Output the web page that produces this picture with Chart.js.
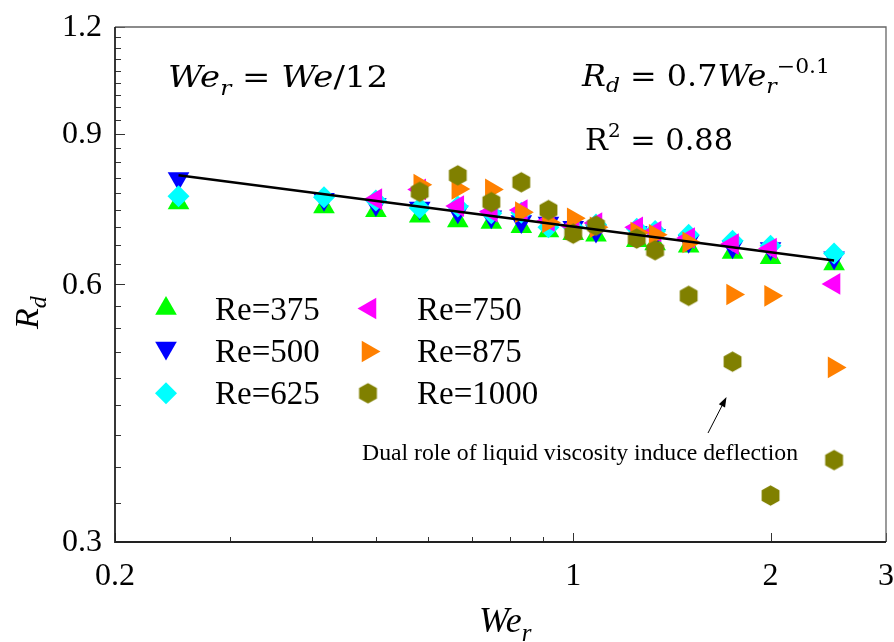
<!DOCTYPE html>
<html><head><meta charset="utf-8">
<script src="https://cdn.jsdelivr.net/npm/chart.js@4/dist/chart.umd.min.js"></script>
<style>html,body{margin:0;padding:0;background:#fff;}#wrap{width:894px;height:642px;position:relative;}</style>
</head><body><div id="wrap"><canvas id="c" width="894" height="642"></canvas></div>
<script>
// ---------- DATA ----------
const seriesNames = ['Re=375','Re=500','Re=625','Re=750','Re=875','Re=1000'];
const weR_375 = [0.25,0.4167,0.5,0.5833,0.6667,0.75,0.8333,0.9167,1.0,1.0833,1.25,1.3333,1.5,1.75,2.0,2.5];
const rd_375  = [0.747,0.739,0.732,0.721,0.712,0.709,0.701,0.693,0.688,0.685,0.675,0.669,0.665,0.654,0.645,0.634];
const weR_500 = [0.25,0.4167,0.5,0.5833,0.6667,0.75,0.8333,0.9167,1.0,1.0833,1.25,1.3333,1.5,1.75,2.0,2.5];
const rd_500  = [0.798,0.755,0.744,0.737,0.730,0.720,0.711,0.708,0.700,0.693,0.690,0.685,0.674,0.664,0.661,0.645];
const weR_625 = [0.25,0.4167,0.5,0.5833,0.6667,0.75,0.8333,0.9167,1.0,1.0833,1.25,1.3333,1.5,1.75,2.0,2.5];
const rd_625  = [0.761,0.759,0.752,0.737,0.740,0.727,0.728,0.700,0.700,0.705,0.697,0.693,0.686,0.675,0.666,0.652];
const weR_750 = [0.5,0.5833,0.6667,0.75,0.8333,0.9167,1.0,1.0833,1.25,1.3333,1.5,1.75,2.0,2.5];
const rd_750  = [0.755,0.775,0.741,0.730,0.733,0.712,0.702,0.708,0.700,0.692,0.680,0.669,0.661,0.601];
const weR_875 = [0.5833,0.6667,0.75,0.8333,0.9167,1.0,1.0833,1.25,1.3333,1.5,1.75,2.0,2.5];
const rd_875  = [0.785,0.776,0.775,0.729,0.709,0.717,0.700,0.690,0.686,0.672,0.584,0.582,0.480];
const weR_1000 = [0.5833,0.6667,0.75,0.8333,0.9167,1.0,1.0833,1.25,1.3333,1.5,1.75,2.0,2.5];
const rd_1000  = [0.770,0.805,0.749,0.790,0.733,0.688,0.703,0.679,0.658,0.582,0.4875,0.340,0.374];
const fitX = [0.25, 2.5];
const fitY = [0.805, 0.640];
const xTickVals = [0.2, 1, 2, 3];
const xTickLabels = ['0.2', '1', '2', '3'];
const xMinorVals = [0.3,0.4,0.5,0.6,0.7,0.8,0.9];
const yTickVals = [0.3, 0.6, 0.9, 1.2];
const yTickLabels = ['0.3', '0.6', '0.9', '1.2'];
const yMinorVals = [0.3333,0.3667,0.4,0.4333,0.4667,0.5,0.5333,0.5667,0.6333,0.6667,0.7,0.7333,0.7667,0.8,0.8333,0.8667,0.9333,0.9667,1.0,1.0333,1.0667,1.1,1.1333,1.1667];

// ---------- STYLES ----------
function makeHex(r, color){
  const s = Math.ceil(2*r+2);
  const c = document.createElement('canvas'); c.width = s; c.height = s;
  const g = c.getContext('2d'); g.fillStyle = color; g.beginPath();
  for (let i=0;i<6;i++){ const a = Math.PI/3*i - Math.PI/2;
    const px = s/2 + r*Math.cos(a), py = s/2 + r*Math.sin(a);
    if (i) g.lineTo(px,py); else g.moveTo(px,py); }
  g.closePath(); g.fill(); return c;
}
const hexImg = makeHex(10.3, '#808000');
const styles = [
  {color:'#00ff00', pointStyle:'triangle', rotation:0,   radius:12.5},
  {color:'#0000ff', pointStyle:'triangle', rotation:180, radius:12.5},
  {color:'#00ffff', pointStyle:'rectRot',  rotation:0,   radius:11},
  {color:'#ff00ff', pointStyle:'triangle', rotation:270, radius:12.5},
  {color:'#ff8000', pointStyle:'triangle', rotation:90,  radius:12.5},
  {color:'#808000', pointStyle:hexImg,     rotation:0,   radius:10}
];
const xs = [weR_375, weR_500, weR_625, weR_750, weR_875, weR_1000];
const ys = [rd_375, rd_500, rd_625, rd_750, rd_875, rd_1000];

const datasets = seriesNames.map((n,i)=>({
  type:'scatter', label:n,
  data: xs[i].map((x,j)=>({x:x, y:ys[i][j]})),
  pointStyle: styles[i].pointStyle, pointRotation: styles[i].rotation,
  pointRadius: styles[i].radius, pointHoverRadius: styles[i].radius,
  backgroundColor: styles[i].color, borderColor: styles[i].color, borderWidth: 0,
  order: 6 - i + 1
}));
datasets.push({
  type:'scatter', label:'fit', showLine:true,
  data: fitX.map((x,j)=>({x:x, y:fitY[j]})),
  borderColor:'#000', borderWidth:2.6, pointRadius:0, order:0
});

// ---------- TEXT HELPERS ----------
const MATH = 'DejaVu Serif';
const SERIF = 'Liberation Serif';
function drawRuns(ctx, runs, x, y, targetW){
  const ws = []; let total = 0;
  runs.forEach(r=>{ ctx.font = r.font; const w = ctx.measureText(r.t).width; ws.push(w); total += w; });
  const sx = targetW ? targetW/total : 1;
  ctx.save(); ctx.translate(x,y); ctx.scale(sx,1);
  let cx = 0;
  runs.forEach((r,i)=>{ ctx.font = r.font; ctx.fillText(r.t, cx, r.dy||0); cx += ws[i]; });
  ctx.restore();
}

const decor = {
  id:'decor',
  afterDraw(chart){
    const ctx = chart.ctx, a = chart.chartArea, X = chart.scales.x, Y = chart.scales.y;
    ctx.save();
    // ticks (inward)
    ctx.strokeStyle = '#333'; ctx.lineWidth = 1;
    ctx.beginPath();
    xTickVals.forEach(v=>{ const p = Math.round(X.getPixelForValue(v))+0.5; ctx.moveTo(p, a.bottom); ctx.lineTo(p, a.bottom-9); });
    xMinorVals.forEach(v=>{ const p = Math.round(X.getPixelForValue(v))+0.5; ctx.moveTo(p, a.bottom); ctx.lineTo(p, a.bottom-5); });
    yTickVals.forEach(v=>{ const p = Math.round(Y.getPixelForValue(v))+0.5; ctx.moveTo(a.left, p); ctx.lineTo(a.left+10, p); });
    yMinorVals.forEach(v=>{ const p = Math.round(Y.getPixelForValue(v))+0.5; ctx.moveTo(a.left, p); ctx.lineTo(a.left+6, p); });
    ctx.stroke();
    // frame
    ctx.strokeStyle = '#666'; ctx.lineWidth = 1.3;
    ctx.beginPath(); ctx.moveTo(a.left, a.top); ctx.lineTo(a.right, a.top); ctx.lineTo(a.right, a.bottom); ctx.stroke();
    ctx.strokeStyle = '#222'; ctx.lineWidth = 1.8;
    ctx.beginPath(); ctx.moveTo(a.left, a.top); ctx.lineTo(a.left, a.bottom); ctx.lineTo(a.right, a.bottom); ctx.stroke();

    // tick labels
    ctx.fillStyle = '#000';
    ctx.font = `32px "${SERIF}"`;
    ctx.textAlign = 'center'; ctx.textBaseline = 'middle';
    xTickVals.forEach((v,i)=>{ ctx.fillText(xTickLabels[i], X.getPixelForValue(v), a.bottom + 35); });
    ctx.textAlign = 'right';
    yTickVals.forEach((v,i)=>{ ctx.fillText(yTickLabels[i], a.left - 13, Y.getPixelForValue(v) + 1); });

    ctx.textAlign = 'left'; ctx.textBaseline = 'alphabetic';
    // annotations
    drawRuns(ctx, [
      {t:'We', font:`italic 29px "${MATH}"`},
      {t:'r', font:`italic 20px "${MATH}"`, dy:8},
      {t:' = ', font:`29px "${MATH}"`},
      {t:'We', font:`italic 29px "${MATH}"`},
      {t:'/12', font:`29px "${MATH}"`}
    ], 168, 87, 220);
    drawRuns(ctx, [
      {t:'R', font:`italic 29px "${MATH}"`},
      {t:'d', font:`italic 20px "${MATH}"`, dy:6},
      {t:' = 0.7', font:`29px "${MATH}"`},
      {t:'We', font:`italic 29px "${MATH}"`},
      {t:'r', font:`italic 20px "${MATH}"`, dy:7},
      {t:'\u22120.1', font:`20px "${MATH}"`, dy:-13}
    ], 582, 86, 248);
    drawRuns(ctx, [
      {t:'R', font:`29px "${MATH}"`},
      {t:'2', font:`19px "${MATH}"`, dy:-13},
      {t:' = 0.88', font:`29px "${MATH}"`}
    ], 585, 150, 148);
    // note
    drawRuns(ctx, [{t:'Dual role of liquid viscosity induce deflection', font:`24px "${SERIF}"`}], 362, 460, 436);
    // arrow
    const ax0 = 708, ay0 = 433, ax1 = 726.5, ay1 = 397;
    const ang = Math.atan2(ay1-ay0, ax1-ax0);
    ctx.strokeStyle = '#000'; ctx.lineWidth = 1;
    ctx.beginPath(); ctx.moveTo(ax0, ay0); ctx.lineTo(ax1 - 8*Math.cos(ang), ay1 - 8*Math.sin(ang)); ctx.stroke();
    ctx.beginPath(); ctx.moveTo(ax1, ay1);
    ctx.lineTo(ax1 - 10*Math.cos(ang) + 3.5*Math.sin(ang), ay1 - 10*Math.sin(ang) - 3.5*Math.cos(ang));
    ctx.lineTo(ax1 - 10*Math.cos(ang) - 3.5*Math.sin(ang), ay1 - 10*Math.sin(ang) + 3.5*Math.cos(ang));
    ctx.closePath(); ctx.fill();
    // legend
    const legPos = [
      {mx:166, my:308.5, tx:215, ty:319.5},
      {mx:166, my:348,   tx:215, ty:361.5},
      {mx:166, my:393.3, tx:215, ty:403.5},
      {mx:370, my:308.5, tx:417, ty:319.5},
      {mx:368, my:351.5, tx:417, ty:361.5},
      {mx:368, my:393.3, tx:417, ty:403.5}
    ];
    seriesNames.forEach((n,i)=>{
      const s = styles[i], p = legPos[i];
      ctx.fillStyle = s.color;
      Chart.helpers.drawPoint(ctx, {pointStyle:s.pointStyle, rotation:s.rotation, radius:s.radius, borderWidth:0}, p.mx, p.my);
      ctx.fillStyle = '#000';
      ctx.font = `33px "${SERIF}"`;
      ctx.fillText(n, p.tx, p.ty);
    });
    // axis titles
    drawRuns(ctx, [
      {t:'We', font:`italic 36px "${SERIF}"`},
      {t:'r', font:`italic 25px "${SERIF}"`, dy:9}
    ], 479, 632, 0);
    ctx.save(); ctx.translate(38, 329); ctx.rotate(-Math.PI/2);
    drawRuns(ctx, [
      {t:'R', font:`italic 34px "${SERIF}"`},
      {t:'d', font:`italic 24px "${SERIF}"`, dy:8}
    ], 0, 0, 0);
    ctx.restore();
    ctx.restore();
  }
};

new Chart(document.getElementById('c'), {
  type:'scatter',
  data:{datasets},
  options:{
    responsive:false, animation:false, events:[],
    layout:{padding:{top:27, right:8, left:0, bottom:0}, autoPadding:false},
    plugins:{legend:{display:false}, tooltip:{enabled:false}},
    scales:{
      x:{type:'logarithmic', min:0.2, max:3,
        grid:{display:false, drawTicks:false}, border:{display:false},
        afterBuildTicks:(s)=>{ s.ticks = xTickVals.map(v=>({value:v})); },
        ticks:{display:false},
        afterFit:(s)=>{ s.height = 100; }
      },
      y:{type:'logarithmic', min:0.3, max:1.2,
        grid:{display:false, drawTicks:false}, border:{display:false},
        afterBuildTicks:(s)=>{ s.ticks = yTickVals.map(v=>({value:v})); },
        ticks:{display:false},
        afterFit:(s)=>{ s.width = 115; }
      }
    }
  },
  plugins:[decor]
});
</script></body></html>
